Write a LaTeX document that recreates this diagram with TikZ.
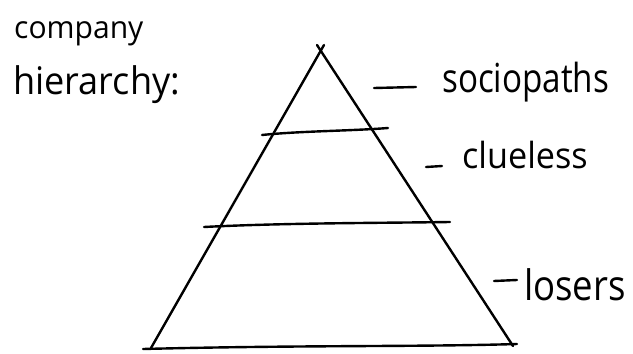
\documentclass[tikz,border=0pt]{standalone}
\usepackage{fontspec}
\setmainfont{Open Sans}
\begin{document}
\begin{tikzpicture}[x=1pt,y=-1pt,
  ink/.style={line width=2.4pt,line cap=round,line join=round,black},
  lbl/.style={anchor=base west,inner sep=0pt}]
\useasboundingbox (0,0) rectangle (633,354);
% triangle
\coordinate (apex) at (321,50);
\coordinate (bl) at (151,348);
\coordinate (br) at (513,346);
\draw[ink] (324,45) -- (bl);
\draw[ink] (317,45) -- (br);
\draw[ink] (143,349) .. controls (300,345) and (420,347) .. (517,344);
% tier lines
\draw[ink] (262,135) .. controls (300,131) and (350,131) .. (388,128);
\draw[ink] (204,227) .. controls (280,223) and (380,223) .. (450,222);
% labels
\node[lbl,font=\fontsize{31}{31}\selectfont,xscale=0.97] (co) at (14,38) {company};
\node[lbl,font=\fontsize{38}{38}\selectfont,xscale=0.95] (hi) at (13,94) {hierarchy:};
\draw[ink] (374,88) -- (416,87);
\node[lbl,font=\fontsize{40}{40}\selectfont,xscale=0.83] (so) at (442,92) {sociopaths};
\draw[ink] (426,167) -- (442,166);
\node[lbl,font=\fontsize{36}{36}\selectfont,xscale=0.95] (cl) at (462,168) {clueless};
\draw[ink] (494,281) -- (517,280);
\node[lbl,font=\fontsize{42}{42}\selectfont,xscale=0.87] (lo) at (524,300) {losers};
\end{tikzpicture}
\end{document}
